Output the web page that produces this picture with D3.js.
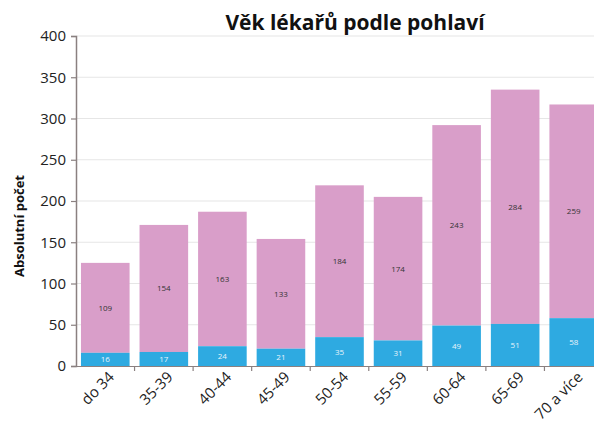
<!DOCTYPE html>
<html>
<head>
<meta charset="utf-8">
<script src="https://cdn.jsdelivr.net/npm/d3@7"></script>
<style>
body{margin:0;background:#fff;}
svg{display:block;font-family:"Open Sans",sans-serif;}
</style>
</head>
<body>
<svg width="594" height="426"></svg>
<script>
var categories = ["do 34","35-39","40-44","45-49","50-54","55-59","60-64","65-69","70 a více"];
var muzi = [16,17,24,21,35,31,49,51,58];
var zeny = [109,154,163,133,184,174,243,284,259];
var yTicks = [0,50,100,150,200,250,300,350,400];

var svg = d3.select("svg");
var mLeft = 76, mTop = 36, mBottom = 366, mRight = 603;

var x = d3.scaleBand().domain(categories).range([mLeft, mRight]).paddingInner(0.17).paddingOuter(0.085);
var y = d3.scaleLinear().domain([0, 400]).range([mBottom, mTop]);

// grid
svg.append("g").selectAll("line").data(yTicks.slice(1)).enter().append("line")
  .attr("x1", mLeft).attr("x2", 594)
  .attr("y1", function(d){ return y(d); }).attr("y2", function(d){ return y(d); })
  .attr("stroke", "#e6e6e6").attr("stroke-width", 1.2);

var rows = categories.map(function(c, i){ return {c: c, m: muzi[i], z: zeny[i]}; });

// bars
var g = svg.append("g");
g.selectAll(".z").data(rows).enter().append("rect")
  .attr("x", function(d){ return x(d.c); }).attr("width", x.bandwidth())
  .attr("y", function(d){ return y(d.m + d.z); })
  .attr("height", function(d){ return y(d.m) - y(d.m + d.z); })
  .attr("fill", "#d99ec9");
g.selectAll(".m").data(rows).enter().append("rect")
  .attr("x", function(d){ return x(d.c); }).attr("width", x.bandwidth())
  .attr("y", function(d){ return y(d.m); })
  .attr("height", function(d){ return y(0) - y(d.m); })
  .attr("fill", "#2eaae1");

// value labels
g.selectAll(".tz").data(rows).enter().append("text")
  .attr("x", function(d){ return x(d.c) + x.bandwidth()/2; })
  .attr("y", function(d){ return y(d.m + d.z/2) + 3; })
  .attr("text-anchor", "middle").attr("font-size", 8).attr("fill", "#333")
  .text(function(d){ return d.z; });
g.selectAll(".tm").data(rows).enter().append("text")
  .attr("x", function(d){ return x(d.c) + x.bandwidth()/2; })
  .attr("y", function(d){ return y(d.m/2) + 3; })
  .attr("text-anchor", "middle").attr("font-size", 8).attr("fill", "#e8f4fb")
  .text(function(d){ return d.m; });

// y axis
var ya = svg.append("g").attr("transform", "translate(" + mLeft + ",0)")
  .call(d3.axisLeft(y).tickValues(yTicks).tickSize(5).tickPadding(5));
ya.select(".domain").attr("stroke", "#8a8080").attr("stroke-width", 1.5);
ya.selectAll(".tick line").attr("stroke", "#8a8080").attr("stroke-width", 1.2);
ya.selectAll("text").attr("font-size", 15).attr("fill", "#222").attr("font-family", "Open Sans");

// x axis
var xa = svg.append("g").attr("transform", "translate(0," + mBottom + ")")
  .call(d3.axisBottom(x).tickSize(0).tickPadding(8));
xa.select(".domain").attr("stroke", "#8a8080").attr("stroke-width", 1.2);
xa.selectAll("text").attr("font-size", 15).attr("fill", "#222").attr("font-family", "Open Sans")
  .attr("text-anchor", "end")
  .attr("transform", "rotate(-45)").attr("dx", "-0.1em").attr("dy", "0.5em");
// boundary ticks
var bounds = categories.slice(1).map(function(c){ return x(c) - x.step()*x.paddingInner()/2; });
svg.append("g").selectAll("line").data(bounds).enter().append("line")
  .attr("x1", function(d){ return d; }).attr("x2", function(d){ return d; })
  .attr("y1", mBottom).attr("y2", mBottom + 5)
  .attr("stroke", "#8a8080").attr("stroke-width", 1.2);

// titles
svg.append("text").attr("x", 355).attr("y", 30).attr("text-anchor", "middle")
  .attr("font-size", 21).attr("font-weight", "bold").attr("fill", "#111")
  .text("Věk lékařů podle pohlaví");
svg.append("text").attr("transform", "translate(24,226) rotate(-90)")
  .attr("text-anchor", "middle").attr("font-size", 13).attr("font-weight", "bold").attr("fill", "#111")
  .text("Absolutní počet");
</script>
</body>
</html>
